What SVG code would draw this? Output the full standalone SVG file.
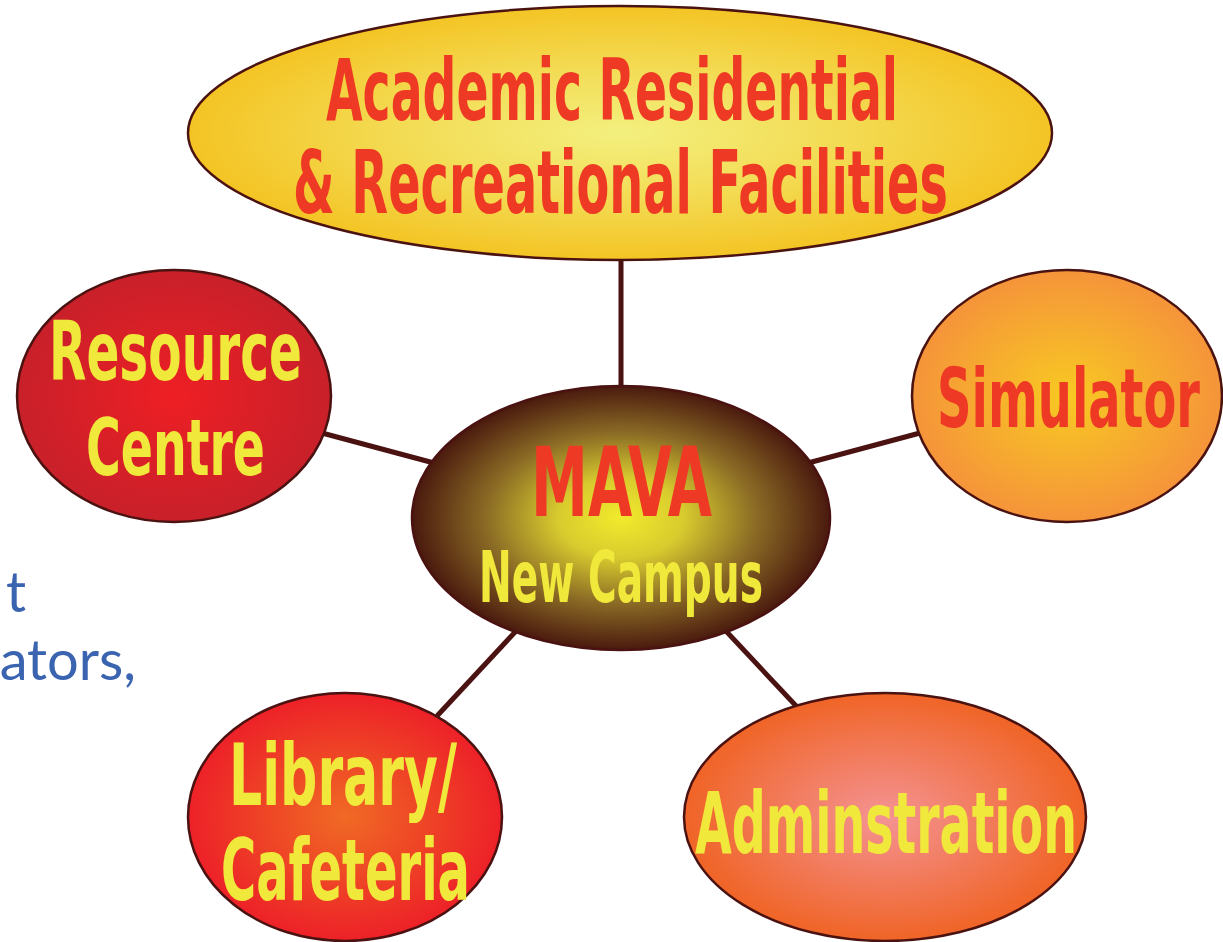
<svg xmlns="http://www.w3.org/2000/svg" width="1223" height="942" viewBox="0 0 1223 942">
<defs>
<radialGradient id="gTop" cx="0.5" cy="0.5" r="0.5"><stop offset="0" stop-color="#f3f07f"/><stop offset="0.5" stop-color="#f3dc55"/><stop offset="1" stop-color="#f4c424"/></radialGradient>
<radialGradient id="gMid" cx="0.5" cy="0.5" r="0.5"><stop offset="0" stop-color="#f2ea2c"/><stop offset="0.3" stop-color="#d8cb2e"/><stop offset="0.65" stop-color="#8a6a25"/><stop offset="1" stop-color="#4a1a0e"/></radialGradient>
<radialGradient id="gRes" cx="0.5" cy="0.5" r="0.5"><stop offset="0" stop-color="#ee1f24"/><stop offset="1" stop-color="#c8202a"/></radialGradient>
<radialGradient id="gSim" cx="0.5" cy="0.5" r="0.5"><stop offset="0" stop-color="#f8c922"/><stop offset="1" stop-color="#f5943a"/></radialGradient>
<radialGradient id="gLib" cx="0.5" cy="0.5" r="0.5"><stop offset="0" stop-color="#f06a24"/><stop offset="1" stop-color="#ed2128"/></radialGradient>
<radialGradient id="gAdm" cx="0.5" cy="0.5" r="0.5"><stop offset="0" stop-color="#f49394"/><stop offset="1" stop-color="#f06426"/></radialGradient>
</defs>
<style>
.node ellipse{stroke:#4a1210;stroke-width:2.5}
.conn line{stroke:#4a1210;stroke-width:5}
.lbl{font-family:"DejaVu Sans Condensed","DejaVu Sans","Liberation Sans",sans-serif;font-weight:bold;text-anchor:start}
.red{fill:#ee3a24}
.yel{fill:#f0e83a}
.blue{font-family:Lato,"Open Sans",sans-serif;fill:#3a63b0;font-size:56px;text-anchor:end}
</style>
<rect width="1223" height="942" fill="#ffffff"/>
<g id="bg-text">
<text class="blue" x="26" y="612">t</text>
<text class="blue" x="136" y="680">ators,</text>
</g>
<g id="connectors" class="conn">
<line x1="621" y1="258" x2="621" y2="390"/>
<line x1="322" y1="433" x2="434" y2="463"/>
<line x1="808" y1="463" x2="920" y2="433"/>
<line x1="437" y1="716" x2="517" y2="630"/>
<line x1="725" y1="630" x2="798" y2="708"/>
</g>
<g id="node-top" class="node">
<ellipse cx="620" cy="133" rx="432" ry="127" fill="url(#gTop)"/>
<text class="lbl red" x="326" y="120" font-size="85" textLength="572" lengthAdjust="spacingAndGlyphs">Academic Residential</text>
<text class="lbl red" x="293" y="213" font-size="88" textLength="655" lengthAdjust="spacingAndGlyphs">&amp; Recreational Facilities</text>
</g>
<g id="node-center" class="node">
<ellipse cx="621" cy="518" rx="209" ry="132" fill="url(#gMid)"/>
<text class="lbl red" x="531" y="516" font-size="97" textLength="181" lengthAdjust="spacingAndGlyphs">MAVA</text>
<text class="lbl yel" x="479" y="602" font-size="72" textLength="284" lengthAdjust="spacingAndGlyphs">New Campus</text>
</g>
<g id="node-resource" class="node">
<ellipse cx="174" cy="396" rx="157" ry="126" fill="url(#gRes)"/>
<text class="lbl yel" x="49" y="380" font-size="82" textLength="253" lengthAdjust="spacingAndGlyphs">Resource</text>
<text class="lbl yel" x="86" y="475" font-size="78" textLength="179" lengthAdjust="spacingAndGlyphs">Centre</text>
</g>
<g id="node-simulator" class="node">
<ellipse cx="1067" cy="396" rx="155" ry="126" fill="url(#gSim)"/>
<text class="lbl red" x="937" y="427" font-size="82" textLength="263" lengthAdjust="spacingAndGlyphs">Simulator</text>
</g>
<g id="node-library" class="node">
<ellipse cx="345" cy="817" rx="157" ry="124" fill="url(#gLib)"/>
<text class="lbl yel" x="229" y="805" font-size="86" textLength="228" lengthAdjust="spacingAndGlyphs">Library/</text>
<text class="lbl yel" x="221" y="900" font-size="85" textLength="249" lengthAdjust="spacingAndGlyphs">Cafeteria</text>
</g>
<g id="node-admin" class="node">
<ellipse cx="885" cy="817" rx="201" ry="124" fill="url(#gAdm)"/>
<text class="lbl yel" x="695" y="853" font-size="85" textLength="382" lengthAdjust="spacingAndGlyphs">Adminstration</text>
</g>
</svg>
